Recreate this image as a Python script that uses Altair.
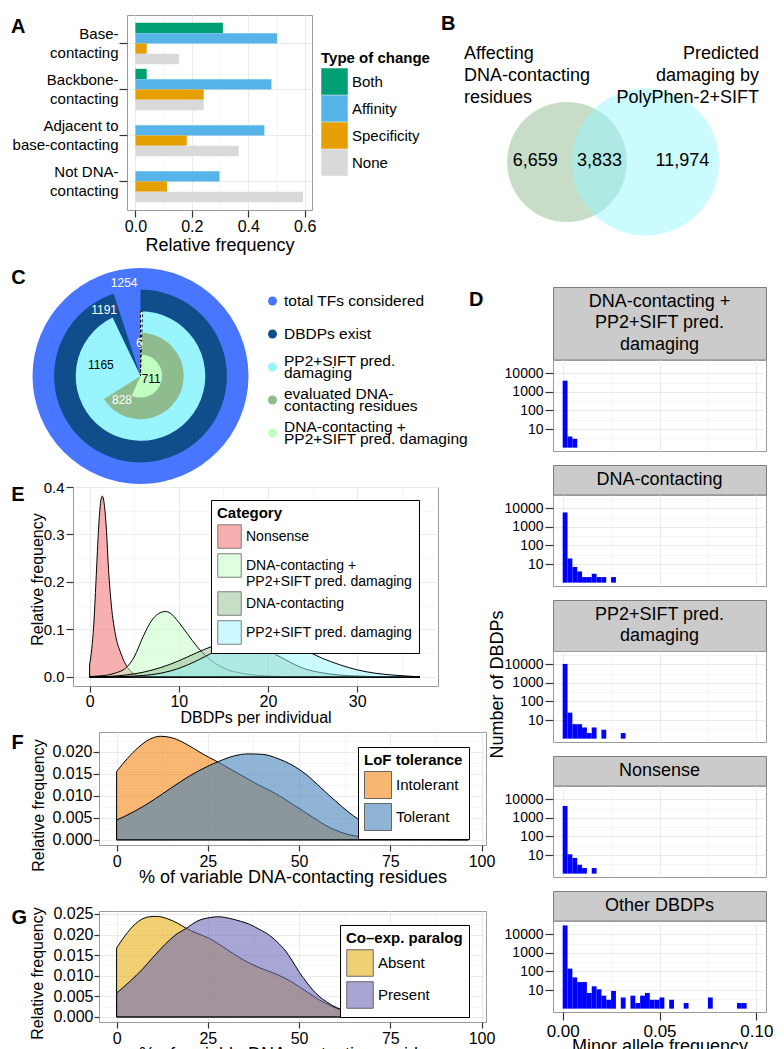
import math
import altair as alt
import pandas as pd

FONT = "Liberation Sans"
FRAME = "#9A9A9A"
GRID = "#EBEBEB"
TICK = "#333333"

# ---------------- Panel A data ----------------
A_categories = ["Base-\ncontacting", "Backbone-\ncontacting",
                "Adjacent to\nbase-contacting", "Not DNA-\ncontacting"]
A_types = ["Both", "Affinity", "Specificity", "None"]
A_both = [0.31, 0.04, None, None]
A_affinity = [0.502, 0.482, 0.457, 0.298]
A_specificity = [0.04, 0.242, 0.182, 0.112]
A_none = [0.155, 0.242, 0.366, 0.594]
A_colors = ["#009E73", "#56B4E9", "#E69F00", "#D9D9D9"]

# ---------------- Panel B data ----------------
B_only_contact = 6659
B_overlap = 3833
B_only_damaging = 11974
B_left_title = "Affecting\nDNA-contacting\nresidues"
B_right_title = "Predicted\ndamaging by\nPolyPhen-2+SIFT"
B_colors = ["#8FBC8F", "#98F5FF"]

# ---------------- Panel C data ----------------
C_categories = ["total TFs considered", "DBDPs exist", "PP2+SIFT pred.\ndamaging",
                "evaluated DNA-\ncontacting residues",
                "DNA-contacting +\nPP2+SIFT pred. damaging"]
C_counts = [1254, 1191, 1165, 828, 711]
C_colors = ["#4876FF", "#104E8B", "#98F5FF", "#8FBC8F", "#C1FFC1"]
C_extra = 6
C_label_text = ["1254", "1191", "1165", "828", "711", "6"]
C_label_color = ["white", "white", "black", "white", "black", "white"]
C_label_angle = [350, 331, 285, 218, 106, 358]
C_label_radius = [94, 75, 41, 30, 11, 33]

# ---------------- Panel D data (counts per MAF bin of width 0.0025) ----------------
D_binwidth = 0.0025
D_titles = ["DNA-contacting +\nPP2+SIFT pred.\ndamaging", "DNA-contacting",
            "PP2+SIFT pred.\ndamaging", "Nonsense", "Other DBDPs"]
D_counts_dna_pp2 = [4000, 4, 3]
D_counts_dna = [6000, 20, 7, 4, 2, 2, 3, 2, 2, 0, 2]
D_counts_pp2 = [10500, 25, 6, 6, 4, 2, 4, 0, 3, 0, 0, 0, 2]
D_counts_nonsense = [4400, 11, 7, 3, 2, 0, 2]
D_counts_other = [30000, 142, 48, 27, 27, 7, 16, 11, 5, 3, 9, 0, 4, 0, 5, 2, 5, 7, 3, 3,
                  4, 0, 3, 0, 0, 2, 0, 0, 0, 0, 4, 0, 0, 0, 0, 0, 2, 2]

# ---------------- Panel E data (density curves) ----------------
E_categories = ["Nonsense", "DNA-contacting +\nPP2+SIFT pred. damaging",
                "DNA-contacting", "PP2+SIFT pred. damaging"]
E_colors = ["#EF5F5F", "#C1FFC1", "#8FBC8F", "#98F5FF"]
E_nonsense_x = [0, 0.25, 0.5, 0.75, 1.0, 1.25, 1.42, 1.6, 1.85, 2.16, 2.5, 2.75, 3.0, 3.5,
                4.0, 4.5, 5.0, 5.5, 6.0, 7.0, 10, 20, 30, 37]
E_nonsense_y = [0.025, 0.06, 0.12, 0.215, 0.31, 0.37, 0.381, 0.37, 0.32, 0.216, 0.14, 0.105,
                0.08, 0.05, 0.028, 0.014, 0.006, 0.002, 0.0008, 0.0001, 0, 0, 0, 0]
E_dnapp2_x = [0, 1, 2, 3, 4, 5, 6, 7, 8, 8.5, 9, 10, 11, 12, 13, 14, 15, 16, 17, 18, 20,
              22, 25, 30, 37]
E_dnapp2_y = [0.001, 0.002, 0.004, 0.009, 0.018, 0.042, 0.085, 0.12, 0.136, 0.138, 0.135,
              0.115, 0.09, 0.065, 0.045, 0.03, 0.019, 0.012, 0.008, 0.005, 0.002, 0.0008,
              0.0002, 0, 0]
E_dna_x = [0, 2, 4, 6, 8, 10, 12, 14, 16, 17, 18, 19, 20, 21, 22, 23, 24, 26, 28, 30, 33, 37]
E_dna_y = [0.0, 0.001, 0.004, 0.01, 0.02, 0.034, 0.051, 0.066, 0.074, 0.075, 0.072, 0.066,
           0.057, 0.046, 0.036, 0.026, 0.018, 0.009, 0.004, 0.002, 0.0005, 0.0]
E_pp2_x = [0, 2, 4, 6, 8, 10, 12, 14, 16, 18, 19.2, 20, 22, 24, 26, 28, 30, 32, 34, 36, 37]
E_pp2_y = [0.0, 0.0, 0.001, 0.003, 0.008, 0.018, 0.034, 0.053, 0.069, 0.078, 0.080, 0.079,
           0.073, 0.058, 0.040, 0.026, 0.015, 0.008, 0.004, 0.0015, 0.0]

# ---------------- Panel F data ----------------
F_categories = ["Intolerant", "Tolerant"]
F_colors = ["#F38716", "#4482B9"]
F_intol_x = [0, 3, 6, 9, 12, 15, 18, 21, 24, 27, 30, 33, 36, 39, 42, 45, 48, 51, 54, 57,
             60, 63, 66, 70, 75, 80, 90, 96.4]
F_intol_y = [0.0155, 0.0185, 0.021, 0.0228, 0.0235, 0.0232, 0.0222, 0.0208, 0.0193, 0.018,
             0.0166, 0.0152, 0.0138, 0.0124, 0.0112, 0.0098, 0.0082, 0.0066, 0.005, 0.0034,
             0.0022, 0.0013, 0.0008, 0.0004, 0.0002, 0.0001, 0.00005, 0.00003]
F_tol_x = [0, 5, 10, 15, 20, 25, 28, 32, 36, 40, 44, 48, 52, 56, 60, 64, 68, 72, 76, 80, 85,
           90, 96.4]
F_tol_y = [0.0045, 0.0065, 0.009, 0.0118, 0.0145, 0.0167, 0.0178, 0.019, 0.0195, 0.0194,
           0.0185, 0.017, 0.0148, 0.0118, 0.0088, 0.006, 0.0038, 0.0024, 0.0016, 0.0012,
           0.001, 0.0008, 0.0007]

# ---------------- Panel G data ----------------
G_categories = ["Absent", "Present"]
G_colors = ["#E6B116", "#6E6BB7"]
G_abs_x = [0, 3, 6, 9, 11, 14, 17, 19.1, 22, 25.5, 30, 34.6, 39, 43.7, 47, 50.1, 53, 55.6,
           58, 60.2, 64, 70, 80, 90, 96.4]
G_abs_y = [0.0167, 0.0205, 0.0232, 0.0243, 0.0244, 0.0238, 0.0226, 0.0215, 0.0203, 0.019,
           0.0165, 0.0139, 0.012, 0.0104, 0.009, 0.0073, 0.0056, 0.0041, 0.003, 0.0021,
           0.0012, 0.0006, 0.0003, 0.0002, 0.0001]
G_pres_x = [0, 3.5, 7.1, 10, 13.5, 16, 19.1, 22, 25.5, 28, 31, 34, 36.4, 39, 41.9, 44, 46.4,
            48, 50.1, 52, 53.8, 55.5, 57.5, 60.2, 64.8, 71.1, 80, 90, 96.4]
G_pres_y = [0.0058, 0.0085, 0.0116, 0.0145, 0.0178, 0.0198, 0.0215, 0.0232, 0.0241, 0.0243,
            0.0239, 0.0232, 0.0225, 0.0213, 0.0198, 0.0182, 0.0159, 0.0138, 0.0108, 0.0085,
            0.0065, 0.005, 0.0037, 0.0023, 0.0012, 0.0007, 0.0004, 0.0003, 0.0002]


# ================= helpers =================
def letter(ch, x, y, opacity=1.0):
    return alt.Chart(pd.DataFrame({"t": [ch]})).mark_text(
        align="left", baseline="alphabetic", font=FONT, fontSize=20, fontWeight="bold",
        color="black", opacity=opacity
    ).encode(text="t:N", x=alt.value(x), y=alt.value(y))


def spacer(w, h=1):
    return alt.Chart(pd.DataFrame({"t": [""]})).mark_text().encode(
        text="t:N", x=alt.value(0), y=alt.value(0)).properties(
        width=w, height=h, view=alt.ViewBackground(stroke="transparent"))


def indep(c):
    return c.resolve_scale(color="independent", size="independent")


def vcat(*charts, spacing=0, **kw):
    return indep(alt.concat(*charts, columns=1, spacing=spacing, **kw))


def hcat(*charts, spacing=0, **kw):
    return indep(alt.concat(*charts, columns=len(charts), spacing=spacing, **kw))


def axis_mm(major, minor, fmt, **kw):
    vals = sorted([float(v) for v in major + minor])
    arr = "[" + ",".join(repr(float(v)) for v in major) + "]"
    test = f"indexof({arr}, datum.value) >= 0"
    base = dict(values=vals,
                labelExpr=f"{test} ? format(datum.value, '{fmt}') : ''",
                tickOpacity={"condition": {"test": test, "value": 1}, "value": 0},
                gridWidth={"condition": {"test": test, "value": 1.0}, "value": 0.5},
                grid=True, gridColor=GRID, tickColor=TICK, tickWidth=1.2, domain=False,
                labelFont=FONT, titleFont=FONT, labelColor="black", titleColor="black",
                titleFontWeight="normal", labelFlush=False, labelOverlap=False)
    base.update(kw)
    return alt.Axis(**base)


def box_legend(title, x, y, side, opacity, label_size=15, multiline=False):
    kw = dict(title=title, orient="none", legendX=x, legendY=y, symbolType="square",
              symbolSize=side * side, symbolStrokeColor="black", symbolStrokeWidth=1,
              symbolOpacity=opacity, rowPadding=0, labelFontSize=label_size,
              labelFont=FONT, titleFont=FONT, titleFontSize=15, titleFontWeight="bold",
              titleColor="black", labelColor="black", strokeColor="black",
              fillColor="white", padding=6, labelOffset=4, titlePadding=3, labelLimit=300)
    if multiline:
        kw["labelExpr"] = "split(datum.label, '\\n')"
    return alt.Legend(**kw)


def density_chart(series, cats, colors, opacity, xscale, yscale, xaxis, yaxis, legend):
    layers = []
    for (xs, ys), cat in zip(series, cats):
        df = pd.DataFrame({"x": xs, "y": ys, "cat": cat})
        layers.append(alt.Chart(df).mark_area(
            interpolate="monotone", stroke="black", strokeWidth=1, fillOpacity=opacity,
            strokeOpacity=1
        ).encode(
            x=alt.X("x:Q", scale=xscale, axis=xaxis),
            y=alt.Y("y:Q", scale=yscale, axis=yaxis),
            color=alt.Color("cat:N", scale=alt.Scale(domain=cats, range=colors), legend=legend),
        ))
    return layers


# ================= Panel A =================
a_rows = []
for cat, b, af, sp, no in zip(A_categories, A_both, A_affinity, A_specificity, A_none):
    for t, v in zip(A_types, [b, af, sp, no]):
        if v is not None:
            a_rows.append({"cat": cat, "type": t, "freq": v})
a_df = pd.DataFrame(a_rows)

a_bars = alt.Chart(a_df).mark_bar().encode(
    x=alt.X("freq:Q", scale=alt.Scale(domain=[-0.0298, 0.6258], nice=False, zero=False),
            axis=axis_mm([0, 0.2, 0.4, 0.6], [0.1, 0.3, 0.5], ".1f", title="Relative frequency",
                         labelFontSize=16, titleFontSize=18, tickSize=7, labelPadding=1,
                         titleY=35, titleBaseline="middle")),
    y=alt.Y("cat:N", sort=A_categories, title=None,
            scale=alt.Scale(paddingInner=0.1, paddingOuter=0.17),
            axis=alt.Axis(labelExpr="split(datum.label, '\\n')", labelFontSize=15,
                          labelLineHeight=19, labelOffset=-9.5, labelFont=FONT,
                          labelColor="black", tickColor=TICK, tickWidth=1.2, tickSize=8,
                          labelPadding=1, domain=False, grid=True, gridColor=GRID,
                          gridWidth=1, title=None)),
    yOffset=alt.YOffset("type:N", sort=A_types, scale=alt.Scale(paddingInner=0, paddingOuter=0)),
    color=alt.Color("type:N", scale=alt.Scale(domain=A_types, range=A_colors),
                    legend=alt.Legend(title="Type of change", orient="none", legendX=194,
                                      legendY=36, symbolType="square", symbolSize=702,
                                      symbolStrokeWidth=0, symbolOpacity=1, rowPadding=0,
                                      labelFontSize=15, titleFontSize=15, titleFont=FONT,
                                      labelFont=FONT, titleFontWeight="bold", titlePadding=2,
                                      labelOffset=4, padding=0, titleColor="black",
                                      labelColor="black")),
)
a_chart = alt.layer(a_bars, letter("A", -116, 18)).properties(
    width=185, height=195, view=alt.ViewBackground(stroke=FRAME))

# ================= Panel B (area-proportional Venn) =================
DW, DH = 213, 91
K = 1.038  # pixels per sqrt(count/pi)
n1 = B_only_contact + B_overlap
n2 = B_only_damaging + B_overlap
r1 = K * math.sqrt(n1 / math.pi)
r2 = K * math.sqrt(n2 / math.pi)
target = K * K * B_overlap


def lens(d):
    a1 = r1 * r1 * math.acos((d * d + r1 * r1 - r2 * r2) / (2 * d * r1))
    a2 = r2 * r2 * math.acos((d * d + r2 * r2 - r1 * r1) / (2 * d * r2))
    a3 = 0.5 * math.sqrt((-d + r1 + r2) * (d + r1 - r2) * (d - r1 + r2) * (d + r1 + r2))
    return a1 + a2 - a3


lo, hi = abs(r2 - r1) + 1e-6, r1 + r2 - 1e-6
for _ in range(200):
    mid = (lo + hi) / 2
    if lens(mid) > target:
        lo = mid
    else:
        hi = mid
dist = (lo + hi) / 2
cx1 = -46 + r1
cx2 = cx1 + dist
cy = 147

BH = 221
bx = alt.Scale(domain=[0, DW], nice=False, zero=False)
by = alt.Scale(domain=[BH, 0], nice=False, zero=False)
venn_df = pd.DataFrame({"cx": [cx1, cx2], "cy": [cy, cy],
                        "size": [(2 * r1) ** 2, (2 * r2) ** 2], "col": B_colors})
venn_circles = alt.Chart(venn_df).mark_circle(opacity=0.5).encode(
    x=alt.X("cx:Q", scale=bx, axis=None), y=alt.Y("cy:Q", scale=by, axis=None),
    size=alt.Size("size:Q", scale=None, legend=None),
    color=alt.Color("col:N", scale=None, legend=None))
num_df = pd.DataFrame({
    "x": [cx1 - 0.53 * r1, ((cx2 - r2) + (cx1 + r1)) / 2, cx2 + 0.5 * r2],
    "y": [cy - 1, cy - 1, cy - 1],
    "t": [f"{B_only_contact:,}", f"{B_overlap:,}", f"{B_only_damaging:,}"]})
venn_nums = alt.Chart(num_df).mark_text(fontSize=18, font=FONT, color="black",
                                        baseline="middle").encode(
    x=alt.X("x:Q", scale=bx, axis=None), y=alt.Y("y:Q", scale=by, axis=None), text="t:N")
venn_lt = alt.Chart(pd.DataFrame({"t": [B_left_title]})).mark_text(
    align="left", baseline="alphabetic", fontSize=18, lineHeight=22, lineBreak="\n",
    font=FONT, color="black").encode(text="t:N", x=alt.value(-89), y=alt.value(43.5))
venn_rt = alt.Chart(pd.DataFrame({"t": [B_right_title]})).mark_text(
    align="right", baseline="alphabetic", fontSize=18, lineHeight=22, lineBreak="\n",
    font=FONT, color="black").encode(text="t:N", x=alt.value(206), y=alt.value(43.5))
b_chart = alt.layer(venn_circles, venn_nums, venn_lt, venn_rt,
                    letter("B", -112, 15)).properties(
    width=DW, height=BH, view=alt.ViewBackground(stroke="transparent"))

# ================= Panel C =================
ring_df = pd.DataFrame({"cat": C_categories, "value": C_counts,
                        "level": [5, 4, 3, 2, 1], "zero": [0] * 5})
theta_sc = alt.Scale(domain=[0, C_counts[0]], range=[0, 2 * math.pi])
rad_sc = alt.Scale(type="linear", domain=[0, 5], range=[0, 108], zero=True)
rings = alt.Chart(ring_df).mark_arc().encode(
    theta=alt.Theta("zero:Q", scale=theta_sc, stack=None),
    theta2=alt.Theta2("value:Q"),
    radius=alt.Radius("level:Q", scale=rad_sc),
    color=alt.Color("cat:N", scale=alt.Scale(domain=C_categories, range=C_colors), legend=None),
    order=alt.Order("level:Q", sort="descending"),
)
extra_df = pd.DataFrame({"value": [C_extra], "level": [3], "zero": [0]})
extra = alt.Chart(extra_df).mark_arc(fill="white", stroke="black", strokeDash=[3, 2],
                                     strokeWidth=1).encode(
    theta=alt.Theta("zero:Q", scale=theta_sc, stack=None),
    theta2=alt.Theta2("value:Q"),
    radius=alt.Radius("level:Q", scale=rad_sc),
)
lab_df = pd.DataFrame({"ang": C_label_angle, "rad": C_label_radius, "t": C_label_text,
                       "col": C_label_color})
ring_labels = alt.Chart(lab_df).mark_text(fontSize=12, font=FONT).encode(
    theta=alt.Theta("ang:Q", scale=alt.Scale(domain=[0, 360], range=[0, 2 * math.pi])),
    radius=alt.Radius("rad:Q", scale=alt.Scale(type="linear", domain=[0, 108], range=[0, 108])),
    text="t:N", color=alt.Color("col:N", scale=None, legend=None))
donut = alt.layer(rings, extra, ring_labels, letter("C", -21.3, 16)).resolve_scale(
    theta="independent", radius="independent", color="independent").properties(
    width=216, height=216, view=alt.ViewBackground(stroke="transparent"))

cleg_df = pd.DataFrame({"cat": C_categories,
                        "n": [c.count("\n") + 1 for c in C_categories]})
cleg_y = alt.Y("cat:N", sort=C_categories, axis=None,
               scale=alt.Scale(type="point", range=[33, 165], padding=0))
cleg_pts = alt.Chart(cleg_df).mark_circle(size=81, opacity=1).encode(
    y=cleg_y, x=alt.value(4.5),
    color=alt.Color("cat:N", scale=alt.Scale(domain=C_categories, range=C_colors), legend=None))
cleg_txt1 = alt.Chart(cleg_df).transform_filter("datum.n == 1").mark_text(
    align="left", baseline="middle", fontSize=15.5, font=FONT, color="black").encode(
    y=cleg_y, x=alt.value(16), text="cat:N")
cleg_txt2 = alt.Chart(cleg_df).transform_filter("datum.n == 2").mark_text(
    align="left", baseline="middle", fontSize=15.5, lineHeight=12, lineBreak="\n", dy=-6,
    font=FONT, color="black").encode(y=cleg_y, x=alt.value(16), text="cat:N")
c_legend = alt.layer(cleg_pts, cleg_txt1, cleg_txt2).properties(
    width=195, height=216, view=alt.ViewBackground(stroke="transparent"))

# ================= Panel E =================
e_x = alt.Scale(domain=[-1.86, 39.06], nice=False, zero=False)
e_y = alt.Scale(domain=[-0.019, 0.4], nice=False, zero=False)
e_xaxis = axis_mm([0, 10, 20, 30], [5, 15, 25, 35], "d", title="DBDPs per individual",
                  labelFontSize=16, titleFontSize=16, tickSize=6, labelPadding=1,
                  titleY=31, titleBaseline="middle")
e_yaxis = axis_mm([0, 0.1, 0.2, 0.3, 0.4], [0.05, 0.15, 0.25, 0.35], ".1f",
                  title="Relative frequency", labelFontSize=15, titleFontSize=16, tickSize=7,
                  labelPadding=2, titleX=-31, titleY=92, titleBaseline="alphabetic")
e_layers = density_chart(
    [(E_nonsense_x, E_nonsense_y), (E_dnapp2_x, E_dnapp2_y), (E_dna_x, E_dna_y),
     (E_pp2_x, E_pp2_y)], E_categories, E_colors, 0.5, e_x, e_y, e_xaxis, e_yaxis,
    box_legend("Category", 138, 13, 23.5, 0.5, label_size=14, multiline=True))
e_chart = alt.layer(*e_layers, letter("E", -61.7, 14)).properties(width=365, height=199)

# ================= Panel F =================
fg_x = alt.Scale(domain=[-4.82, 101.22], nice=False, zero=False)
f_y = alt.Scale(domain=[-0.00117, 0.02447], nice=False, zero=False)
fg_xaxis = axis_mm([0, 25, 50, 75, 100], [12.5, 37.5, 62.5, 87.5], "d",
                   title="% of variable DNA-contacting residues", labelFontSize=16,
                   titleFontSize=18, tickSize=6, labelPadding=2, titleY=32,
                   titleBaseline="middle")
f_yaxis = axis_mm([0, 0.005, 0.01, 0.015, 0.02], [0.0025, 0.0075, 0.0125, 0.0175, 0.0225],
                  ".3f", title="Relative frequency", labelFontSize=16, titleFontSize=16,
                  tickSize=6, labelPadding=1, titleX=-56, titleY=73,
                  titleBaseline="alphabetic")
f_layers = density_chart([(F_intol_x, F_intol_y), (F_tol_x, F_tol_y)], F_categories,
                         F_colors, 0.6, fg_x, f_y, fg_xaxis, f_yaxis,
                         box_legend("LoF tolerance", 259, 15, 27, 0.6))
f_chart = alt.layer(*f_layers, letter("F", -87.4, 17)).properties(width=387, height=113)

# ================= Panel G =================
g_y = alt.Scale(domain=[-0.00122, 0.0257], nice=False, zero=False)
g_xaxis = axis_mm([0, 25, 50, 75, 100], [12.5, 37.5, 62.5, 87.5], "d",
                  title="% of variable DNA-contacting residues", labelFontSize=16,
                  titleFontSize=18, tickSize=6, labelPadding=2, titleY=32,
                  titleBaseline="middle")
g_yaxis = axis_mm([0, 0.005, 0.01, 0.015, 0.02, 0.025],
                  [0.0025, 0.0075, 0.0125, 0.0175, 0.0225], ".3f",
                  title="Relative frequency", labelFontSize=16, titleFontSize=16,
                  tickSize=5, labelPadding=1, titleX=-57, titleY=62,
                  titleBaseline="alphabetic")
g_layers = density_chart([(G_abs_x, G_abs_y), (G_pres_x, G_pres_y)], G_categories,
                         G_colors, 0.6, fg_x, g_y, g_xaxis, g_yaxis,
                         box_legend("Co\u2013exp. paralog", 241, 14, 26.5, 0.6))
g_chart = alt.layer(*g_layers, letter("G", -87.4, 13.3)).properties(width=387, height=111)

# ================= Panel D =================
d_xs = alt.Scale(domain=[-0.005, 0.105], nice=False, zero=False)
d_ys = alt.Scale(type="log", domain=[0.66, 52000], nice=False)


def d_strip(title, first):
    nlines = title.count("\n") + 1
    h = 8 + 21.5 * nlines
    t = alt.Chart(pd.DataFrame({"t": [title]})).mark_text(
        align="center", baseline="middle", fontSize=18, lineHeight=21.5, lineBreak="\n",
        font=FONT, color="black").encode(
        text="t:N", x=alt.value(DW / 2), y=alt.value(h / 2 - (nlines - 1) * 21.5 / 2))
    layers = [t, letter("D", -112, h / 2 + 7, opacity=0)]
    if first:
        layers.append(letter("D", -84, 19))
    return alt.layer(*layers).properties(
        width=DW, height=h, view=alt.ViewBackground(fill="#CBCBCB", stroke="#7F7F7F"))


def d_hist(counts, last, with_title):
    rows = [{"x0": i * D_binwidth, "x1": (i + 1) * D_binwidth, "n": c}
            for i, c in enumerate(counts) if c > 1]
    df = pd.DataFrame(rows)
    if last:
        xaxis = axis_mm([0, 0.05, 0.1], [0.025, 0.075], ".2f", title="Minor allele frequency",
                        labelFontSize=17, titleFontSize=18, tickSize=8, labelPadding=3,
                        titleY=34, titleBaseline="middle")
    else:
        xaxis = axis_mm([0, 0.05, 0.1], [0.025, 0.075], ".2f", title=None, labels=False,
                        ticks=False)
    ykw = dict(labelFontSize=14, tickSize=8, labelPadding=2)
    if with_title:
        ykw.update(title="Number of DBDPs", titleFontSize=18, titleX=-51, titleY=33,
                   titleBaseline="alphabetic")
    else:
        ykw.update(title=None)
    yaxis = axis_mm([10, 100, 1000, 10000],
                    [10 ** 0.5, 10 ** 1.5, 10 ** 2.5, 10 ** 3.5, 10 ** 4.5], "d", **ykw)
    bars = alt.Chart(df).mark_rect(color="#0000FF").encode(
        x=alt.X("x0:Q", scale=d_xs, axis=xaxis), x2="x1:Q",
        y=alt.Y("n:Q", scale=d_ys, axis=yaxis), y2=alt.datum(1))
    return alt.layer(bars, letter("D", -112, 55, opacity=0)).properties(
        width=DW, height=DH, view=alt.ViewBackground(stroke=FRAME))


D_all = [D_counts_dna_pp2, D_counts_dna, D_counts_pp2, D_counts_nonsense, D_counts_other]
d_items = []
for i, (t, c) in enumerate(zip(D_titles, D_all)):
    if i > 0:
        d_items.append(spacer(DW, 14))
    d_items.append(d_strip(t, i == 0))
    d_items.append(d_hist(c, i == 4, i == 2))
d_col = vcat(*d_items, spacing=0, bounds="flush")

# ================= Layout =================
row_a = hcat(spacer(118), a_chart, spacing=0, bounds="flush", align="none")
row_c = hcat(spacer(3.5), donut, c_legend, spacing=19.5, bounds="flush", align="none")
row_e = hcat(spacer(63.4), e_chart, spacing=0, bounds="flush", align="none")
row_f = hcat(spacer(89.1), f_chart, spacing=0, bounds="flush", align="none")
row_g = hcat(spacer(89.1), g_chart, spacing=0, bounds="flush", align="none")

left = vcat(
    vcat(
        vcat(
            vcat(row_a, row_c, spacing=6, align="none"),
            row_e, spacing=-6, align="none"),
        row_f, spacing=-1, align="none"),
    row_g, spacing=17, align="none")
right = vcat(b_chart, d_col, spacing=49, align="none")

chart = hcat(left, right, spacing=-56, align="none").properties(
    padding=0, background="white"
).configure(font=FONT).configure_view(stroke=FRAME, strokeWidth=1)

chart.save("out.html", embed_options={"renderer": "svg", "actions": False})
